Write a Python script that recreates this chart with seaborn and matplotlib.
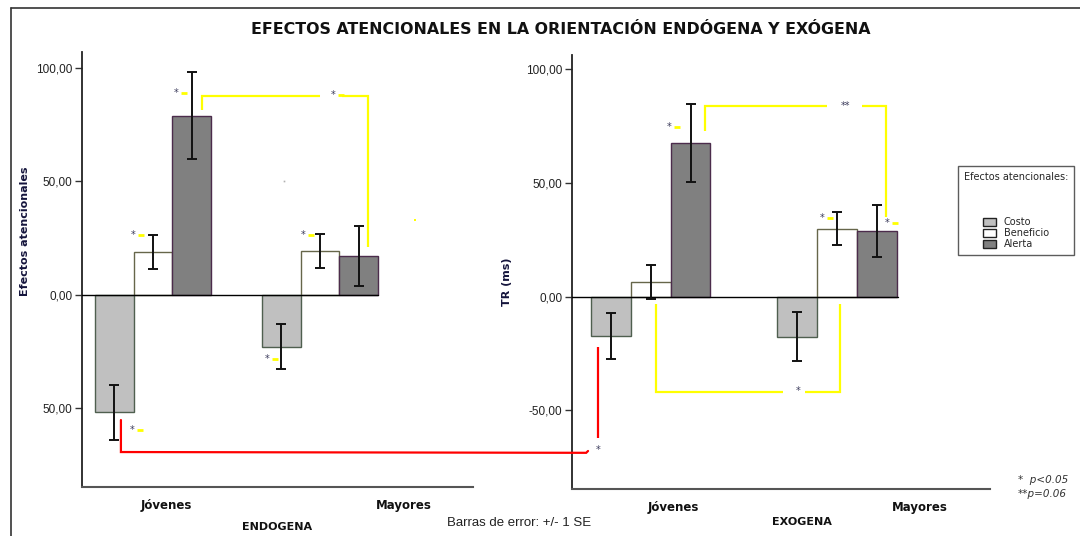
import matplotlib
matplotlib.use("Agg")
import matplotlib.pyplot as plt
from matplotlib.lines import Line2D
from matplotlib.patches import Patch
from matplotlib.transforms import offset_copy
import pandas as pd
import seaborn as sns

# ---- datos ----
grupos = ["Jóvenes", "Mayores"]
efectos = ["Costo", "Beneficio", "Alerta"]

endo_costo = [-51.7, -22.8]
endo_beneficio = [18.8, 19.4]
endo_alerta = [79.0, 17.2]
endo_costo_se = [12.0, 10.0]
endo_beneficio_se = [7.4, 7.5]
endo_alerta_se = [19.2, 13.3]

exo_costo = [-17.3, -17.5]
exo_beneficio = [6.6, 29.8]
exo_alerta = [67.7, 28.9]
exo_costo_se = [10.0, 10.6]
exo_beneficio_se = [7.5, 7.3]
exo_alerta_se = [17.1, 11.3]

y_ticks = [-50, 0, 50, 100]
tick_labels_endo = ["50,00", "0,00", "50,00", "100,00"]
tick_labels_exo = ["-50,00", "0,00", "50,00", "100,00"]

colores = {"Costo": "#c0c0c0", "Beneficio": "#ffffff", "Alerta": "#808080"}
bordes = {"Costo": "#4f5f4f", "Beneficio": "#66664a", "Alerta": "#4c2c4c"}


def tabla(medias, errores):
    filas = []
    for ef, med, err in zip(efectos, medias, errores):
        for g, m, e in zip(grupos, med, err):
            filas.append({"grupo": g, "efecto": ef, "valor": m, "se": e})
    return pd.DataFrame(filas)


df_endo = tabla([endo_costo, endo_beneficio, endo_alerta],
                [endo_costo_se, endo_beneficio_se, endo_alerta_se])
df_exo = tabla([exo_costo, exo_beneficio, exo_alerta],
               [exo_costo_se, exo_beneficio_se, exo_alerta_se])

sns.set_style("ticks")
plt.rcParams["font.family"] = ["DejaVu Sans"]

W, H = 1080, 536
fig = plt.figure(figsize=(W / 100, H / 100), dpi=100)


def px_box(x0, y0, x1, y1):
    return [x0 / W, 1 - y1 / H, (x1 - x0) / W, (y1 - y0) / H]


axL = fig.add_axes(px_box(82, 52, 473, 487))
axR = fig.add_axes(px_box(572, 55, 990, 489))


def panel(ax, df, ancho, xlim, ylim, etiquetas, pos_cat, fin_cero):
    sns.barplot(data=df, x="grupo", y="valor", hue="efecto", order=grupos,
                hue_order=efectos, palette=colores, width=ancho, errorbar=None,
                saturation=1, legend=False, ax=ax, zorder=2)
    for cont, ef in zip(ax.containers, efectos):
        for barra in cont:
            barra.set_edgecolor(bordes[ef])
            barra.set_linewidth(1.0)
        xs = [b.get_x() + b.get_width() / 2 for b in cont]
        sub = df[df["efecto"] == ef]
        ax.errorbar(xs, sub["valor"], yerr=sub["se"], fmt="none",
                    ecolor="#111111", elinewidth=1.4, capsize=3.6,
                    capthick=1.4, zorder=4)
    ax.set_xlim(*xlim)
    ax.set_ylim(*ylim)
    ax.axhline(0, xmin=0, xmax=fin_cero, color="black", lw=1.0, zorder=3)
    ax.set_yticks(y_ticks)
    ax.set_yticklabels(etiquetas, fontfamily="Liberation Sans", fontsize=8.5,
                       color="#222222")
    ax.set_xticks(pos_cat)
    ax.set_xticklabels(grupos, fontweight="bold", fontsize=8.5, color="#111111")
    ax.tick_params(axis="x", length=0, pad=9)
    ax.tick_params(axis="y", length=5, width=1, color="#333333", pad=2)
    ax.set_xlabel("")
    ax.set_ylabel("")
    for s in ("top", "right"):
        ax.spines[s].set_visible(False)
    ax.spines["left"].set_color("#222222")
    ax.spines["bottom"].set_color("#555555")
    ax.spines["left"].set_linewidth(1.3)
    ax.spines["bottom"].set_linewidth(1.5)


panel(axL, df_endo, 0.695, (-0.425, 1.916), (-84.6, 107.0),
      tick_labels_endo, [0.078, 1.503], 0.757)
panel(axR, df_exo, 0.643, (-0.421, 1.820), (-84.5, 106.2),
      tick_labels_exo, [0.12, 1.445], 0.78)

AMARILLO = "#ffff00"
ROJO = "#ff0000"


def estrella(ax, x, y, txt="*", guion=True):
    ax.text(x, y, txt, fontsize=7, color="#3c3c5c", ha="center", va="center",
            zorder=6)
    if guion:
        desplazado = offset_copy(ax.transData, fig=fig, x=8, y=0, units="dots")
        ax.plot([x], [y], marker="_", ms=4, mew=2, color=AMARILLO,
                transform=desplazado, clip_on=False, zorder=6)


def corchete(ax, xs, ys, color=AMARILLO):
    ax.plot(xs, ys, color=color, lw=1.6, clip_on=False, zorder=5,
            solid_joinstyle="miter", solid_capstyle="butt")


# panel endógeno: comparaciones
corchete(axL, [0.293, 0.293, 1.0], [81.5, 87.7, 87.7])
corchete(axL, [1.13, 1.287, 1.287], [87.7, 87.7, 21.1])
estrella(axL, 1.078, 88.1)
estrella(axL, 0.138, 89.0)
estrella(axL, -0.12, 26.4)
estrella(axL, 0.898, 26.4)
estrella(axL, 0.683, -28.2)
estrella(axL, -0.126, -59.5)
axL.plot([0.784], [50.2], marker="s", ms=1.2, color="#b0b0b0", mew=0)
axL.plot([1.569], [33.0], marker="s", ms=1.8, color=AMARILLO, mew=0)

# panel exógeno: comparaciones
corchete(axR, [0.292, 0.292, 0.946], [72.8, 83.7, 83.7])
corchete(axR, [1.134, 1.263, 1.263], [83.7, 83.7, 35.1])
estrella(axR, 1.043, 83.9, "**", guion=False)
estrella(axR, 0.099, 74.7)
estrella(axR, 0.920, 34.7)
estrella(axR, 1.268, 32.5)
corchete(axR, [0.710, 0.028, 0.028], [-41.7, -41.7, -3.2])
corchete(axR, [0.828, 1.016, 1.016], [-41.7, -41.7, -3.2])
estrella(axR, 0.791, -41.4, guion=False)

# comparación entre orientaciones (Costo, jóvenes)
corchete(axR, [-0.280, -0.280], [-22.0, -62.1], color=ROJO)
estrella(axR, -0.28, -67.3, guion=False)
inv = fig.transFigure.inverted()
puntos = [axL.transData.transform(p) for p in [(-0.192, -55.1), (-0.192, -69.2)]]
puntos.append(axR.transData.transform((-0.345, -68.6)))
puntos.append(axR.transData.transform((-0.335, -67.8)))
pf = inv.transform(puntos)
fig.add_artist(Line2D(pf[:, 0], pf[:, 1], transform=fig.transFigure,
                      color=ROJO, lw=1.6, solid_joinstyle="miter", zorder=5))

# marco
fig.add_artist(Line2D([11 / W, 11 / W], [0, 1 - 8 / H], transform=fig.transFigure,
                      color="#333333", lw=1.2))
fig.add_artist(Line2D([11 / W, 1], [1 - 8 / H, 1 - 8 / H], transform=fig.transFigure,
                      color="#333333", lw=1.2))

# textos
fig.text(561 / W, 1 - 30 / H,
         "EFECTOS ATENCIONALES EN LA ORIENTACIÓN ENDÓGENA Y EXÓGENA",
         ha="center", va="center", fontsize=11.4, fontweight="bold",
         color="#111111")
fig.text(25 / W, 1 - 231 / H, "Efectos atencionales", rotation=90,
         ha="center", va="center", fontsize=8, fontweight="bold", color="#14143c")
fig.text(507 / W, 1 - 282 / H, "TR (ms)", rotation=90,
         ha="center", va="center", fontsize=8, fontweight="bold", color="#14143c")
fig.text(277 / W, 1 - 527 / H, "ENDOGENA", ha="center", va="center",
         fontsize=8, fontweight="bold", color="#111111")
fig.text(802 / W, 1 - 522 / H, "EXOGENA", ha="center", va="center",
         fontsize=8, fontweight="bold", color="#111111")
fig.text(519 / W, 1 - 523 / H, "Barras de error: +/- 1 SE", ha="center",
         va="center", fontsize=9.5, fontfamily="Liberation Sans", color="#222222")
fig.text(1018 / W, 1 - 480 / H, "*  p<0.05", ha="left", va="center",
         fontsize=7.5, style="italic", color="#333333")
fig.text(1018 / W, 1 - 494 / H, "**p=0.06", ha="left", va="center",
         fontsize=7.5, style="italic", color="#333333")

manejadores = [Patch(facecolor=colores[e], edgecolor="#222222", lw=1, label=e)
               for e in efectos]
leg = fig.legend(handles=manejadores, title="Efectos atencionales:\n\n\n",
                 loc="upper left", bbox_to_anchor=(953 / W, 1 - 161 / H),
                 frameon=True, fancybox=False, edgecolor="#333333",
                 fontsize=7, title_fontsize=7, handlelength=1.3,
                 handleheight=1.0, labelspacing=0.1, handletextpad=0.8,
                 borderpad=0.6, alignment="center")
leg.get_frame().set_linewidth(1.0)

fig.savefig("out.png", dpi=100)
